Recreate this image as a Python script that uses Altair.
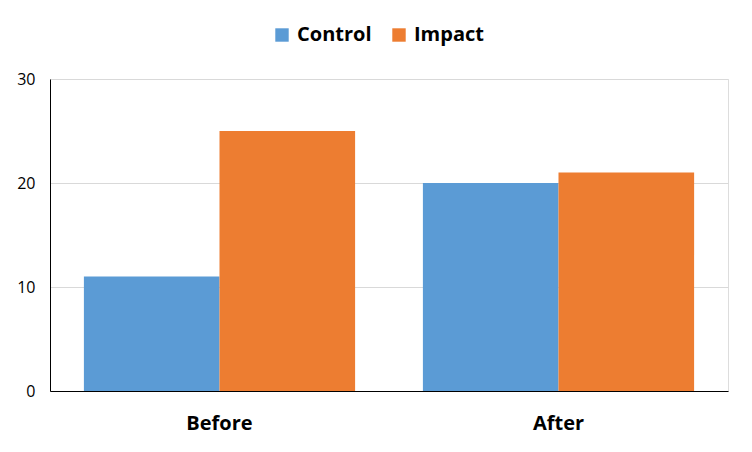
import altair as alt
import pandas as pd

periods = ["Before", "Before", "After", "After"]
groups = ["Control", "Impact", "Control", "Impact"]
values = [11, 25, 20, 21]

df = pd.DataFrame({"period": periods, "group": groups, "value": values})

font = "Open Sans"

chart = alt.Chart(df).mark_bar().encode(
    x=alt.X("period:N", sort=["Before", "After"],
            scale=alt.Scale(paddingInner=0.2, paddingOuter=0.1),
            axis=alt.Axis(title=None, labelAngle=0, labelFontSize=20, labelFontWeight="bold",
                          labelColor="#000000", labelFont=font, ticks=False, domain=True,
                          domainColor="#000000", labelPadding=22)),
    xOffset=alt.XOffset("group:N", sort=["Control", "Impact"], scale=alt.Scale(paddingInner=0)),
    y=alt.Y("value:Q", scale=alt.Scale(domain=[0, 30]),
            axis=alt.Axis(title=None, values=[0, 10, 20, 30], labelFontSize=16, labelFont=font,
                          labelColor="#000000", ticks=False, domain=True, domainColor="#000000",
                          gridColor="#d9d9d9", labelPadding=15)),
    color=alt.Color("group:N", sort=["Control", "Impact"],
                    scale=alt.Scale(domain=["Control", "Impact"], range=["#5B9BD5", "#ED7D31"]),
                    legend=alt.Legend(title=None, orient="none", legendX=222, legendY=-54,
                                      direction="horizontal", symbolType="square", symbolSize=180,
                                      symbolStrokeWidth=0, labelFontSize=20, labelFontWeight="bold",
                                      labelFont=font, labelColor="#000000", columnPadding=17,
                                      labelOffset=5)),
).properties(
    width=678, height=312,
    autosize=alt.AutoSizeParams(type="none"),
    padding={"left": 42, "top": 71, "right": 16, "bottom": 53},
).configure_view(stroke=None).configure(background="white")

chart.save("out.html", embed_options={"renderer": "svg", "actions": False})
